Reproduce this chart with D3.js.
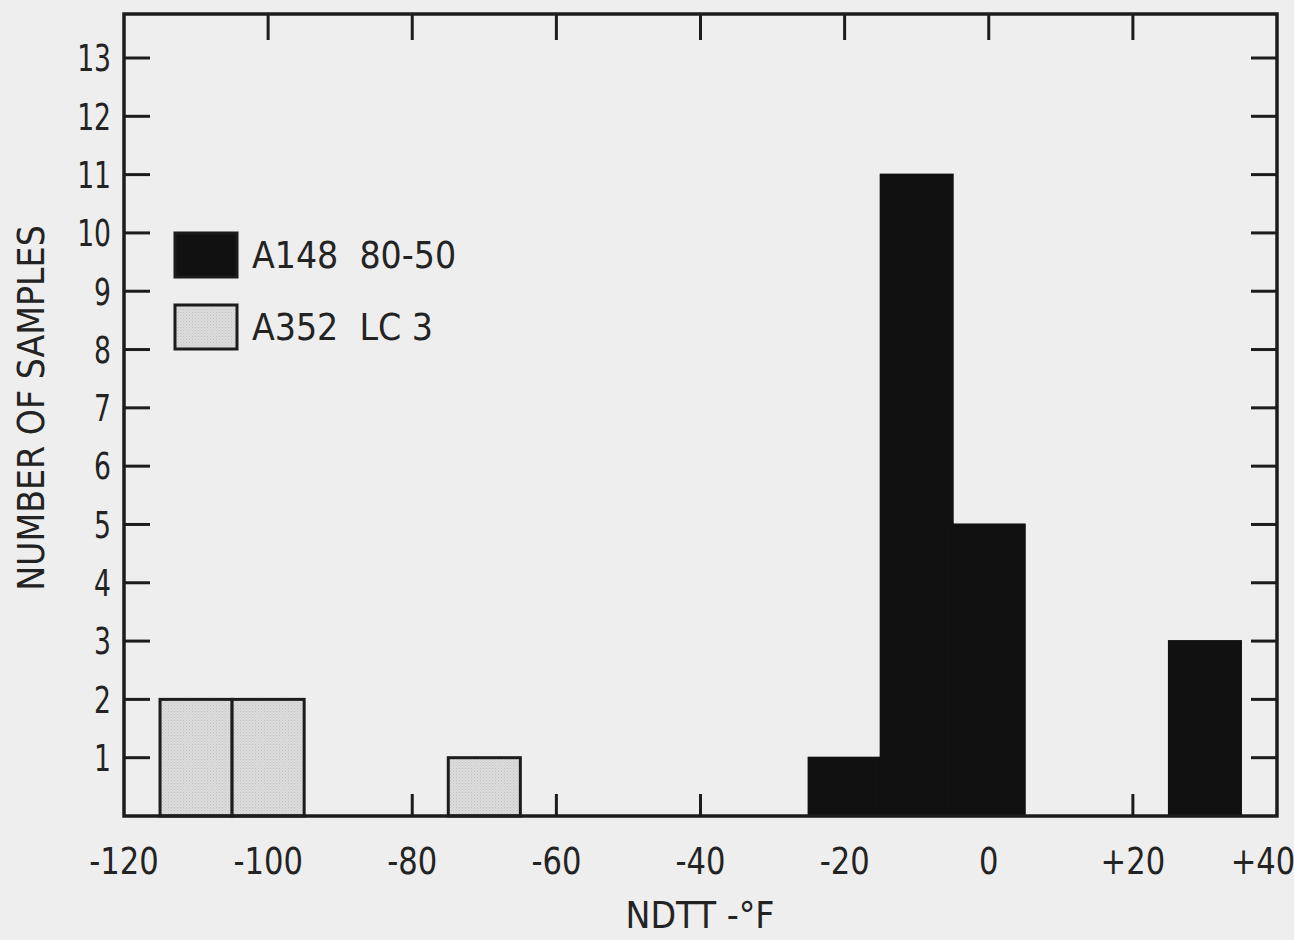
<!DOCTYPE html>
<html>
<head>
<meta charset="utf-8">
<script src="https://cdn.jsdelivr.net/npm/d3@7"></script>
<style>
  html, body { margin: 0; padding: 0; background: #eeeeee; }
  svg { display: block; }
  text { font-family: "Liberation Sans Narrow", "DejaVu Sans Condensed", "Arial Narrow", sans-serif; fill: #232323; }
</style>
</head>
<body>
<svg id="chart" width="1294" height="940"></svg>
<script>
// Histogram of nil-ductility transition temperatures, 10 °F bins
const binWidth = 10;

// A148 80-50 (solid bars): bin lower edges and sample counts
const a148BinStart = [-25, -15, -5, 25];
const a148Counts   = [1, 11, 5, 3];

// A352 LC 3 (shaded bars)
const a352BinStart = [-115, -105, -75];
const a352Counts   = [2, 2, 1];

// Axis ticks
const xTicks = [-120, -100, -80, -60, -40, -20, 0, 20, 40];
const yTicks = [1, 2, 3, 4, 5, 6, 7, 8, 9, 10, 11, 12, 13];

const legendLabels = ["A148  80-50", "A352  LC 3"];

const ink = "#1c1c1c";

const svg = d3.select("#chart");

const plotLeft = 124, plotRight = 1277, plotTop = 14, plotBottom = 816;

const x = d3.scaleLinear().domain([-120, 40]).range([plotLeft, plotRight]);
const y = d3.scaleLinear().domain([0, 13]).range([plotBottom, 58]);

// stipple pattern for the shaded series
const defs = svg.append("defs");
const pat = defs.append("pattern")
  .attr("id", "stipple").attr("width", 3).attr("height", 3)
  .attr("patternUnits", "userSpaceOnUse");
pat.append("rect").attr("width", 3).attr("height", 3).attr("fill", "#dcdcdc");
pat.append("rect").attr("x", 0).attr("y", 0).attr("width", 1).attr("height", 1).attr("fill", "#c2c2c2");
pat.append("rect").attr("x", 1.5).attr("y", 1.5).attr("width", 1).attr("height", 1).attr("fill", "#c8c8c8");

// inward tick marks on all four sides
const g = svg.append("g");
const tickLen = 26;
g.append("g").selectAll("line").data(yTicks).join("line")
  .attr("x1", plotLeft).attr("x2", plotLeft + tickLen)
  .attr("y1", d => y(d)).attr("y2", d => y(d))
  .attr("stroke", ink).attr("stroke-width", 3);
g.append("g").selectAll("line").data(yTicks).join("line")
  .attr("x1", plotRight - tickLen).attr("x2", plotRight)
  .attr("y1", d => y(d)).attr("y2", d => y(d))
  .attr("stroke", ink).attr("stroke-width", 3);
const innerX = xTicks.slice(1, -1);
g.append("g").selectAll("line").data(innerX).join("line")
  .attr("x1", d => x(d)).attr("x2", d => x(d))
  .attr("y1", plotTop).attr("y2", plotTop + tickLen)
  .attr("stroke", ink).attr("stroke-width", 3);
g.append("g").selectAll("line").data(innerX).join("line")
  .attr("x1", d => x(d)).attr("x2", d => x(d))
  .attr("y1", plotBottom).attr("y2", plotBottom - 22)
  .attr("stroke", ink).attr("stroke-width", 3);

// bars
const a352 = a352BinStart.map((s, i) => ({ x0: s, x1: s + binWidth, n: a352Counts[i] }));
const a148 = a148BinStart.map((s, i) => ({ x0: s, x1: s + binWidth, n: a148Counts[i] }));

svg.append("g").selectAll("rect").data(a352).join("rect")
  .attr("x", d => x(d.x0)).attr("width", d => x(d.x1) - x(d.x0))
  .attr("y", d => y(d.n)).attr("height", d => y(0) - y(d.n))
  .attr("fill", "url(#stipple)").attr("stroke", ink).attr("stroke-width", 3);

svg.append("g").selectAll("rect").data(a148).join("rect")
  .attr("x", d => x(d.x0)).attr("width", d => x(d.x1) - x(d.x0))
  .attr("y", d => y(d.n)).attr("height", d => y(0) - y(d.n))
  .attr("fill", "#111").attr("stroke", "#111").attr("stroke-width", 2);

// frame
svg.append("rect")
  .attr("x", plotLeft).attr("y", plotTop)
  .attr("width", plotRight - plotLeft).attr("height", plotBottom - plotTop)
  .attr("fill", "none").attr("stroke", ink).attr("stroke-width", 3.5);

// tick labels (condensed numerals)
const fmtX = d => d > 0 ? "+" + d : String(d);
svg.append("g").selectAll("text").data(xTicks).join("text")
  .attr("transform", d => `translate(${x(d) + (d === 40 ? -14 : 0)},874) scale(0.92,1)`)
  .attr("text-anchor", "middle").attr("font-size", 37)
  .text(fmtX);

svg.append("g").selectAll("text").data(yTicks).join("text")
  .attr("transform", d => `translate(111,${y(d)}) scale(0.8,1)`)
  .attr("dy", "0.36em")
  .attr("text-anchor", "end").attr("font-size", 37)
  .text(d => d);

// axis titles
svg.append("text")
  .attr("x", 700).attr("y", 928).attr("text-anchor", "middle")
  .attr("font-size", 37).text("NDTT -°F");

svg.append("text")
  .attr("transform", "translate(44,408) rotate(-90)")
  .attr("text-anchor", "middle").attr("font-size", 37)
  .text("NUMBER OF SAMPLES");

// legend
const legend = svg.append("g");
const swatchFill = ["#111", "url(#stipple)"];
const legY = [233, 305];
legendLabels.forEach((lab, i) => {
  legend.append("rect")
    .attr("x", 175).attr("y", legY[i]).attr("width", 62).attr("height", 44)
    .attr("fill", swatchFill[i]).attr("stroke", ink).attr("stroke-width", 3);
  legend.append("text")
    .attr("x", 252).attr("y", legY[i] + 22).attr("dy", "0.36em")
    .attr("font-size", 37)
    .style("white-space", "pre")
    .text(lab);
});
</script>
</body>
</html>
